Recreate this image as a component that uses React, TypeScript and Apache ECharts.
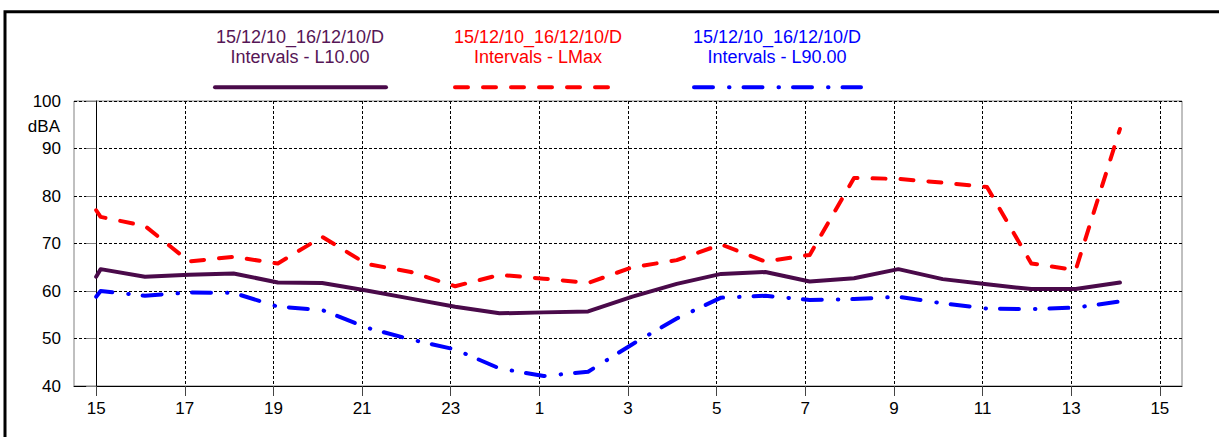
import React, { useEffect, useRef } from "react";
import * as echarts from "echarts";

// hours elapsed since 15:00 on day 1
const times = [0, 0.1, 1.1, 2.1, 3.1, 4.1, 5.1, 6.1, 7.1, 8.1, 9.1, 10.1, 11.1, 12.1, 13.1, 14.1, 15.1, 16.1, 17.1, 18.1, 19.1, 20.1, 21.1, 22.1, 23.1];
const l10 = [63.0, 64.6, 63.0, 63.4, 63.7, 61.8, 61.7, 60.1, 58.4, 56.7, 55.3, 55.5, 55.7, 58.8, 61.5, 63.6, 64.0, 62.0, 62.7, 64.6, 62.5, 61.4, 60.4, 60.4, 61.8];
const lmax = [77.0, 75.6, 73.7, 66.2, 67.2, 65.8, 71.4, 65.7, 64.0, 61.0, 63.4, 62.6, 61.7, 65.0, 66.5, 69.8, 66.2, 67.6, 83.8, 83.6, 82.8, 81.9, 65.8, 64.4, 94.1];
const l90 = [58.8, 60.0, 59.0, 59.7, 59.6, 56.7, 56.0, 52.3, 49.8, 47.7, 43.7, 42.1, 43.0, 48.8, 54.2, 58.6, 59.0, 58.1, 58.3, 58.8, 57.4, 56.3, 56.2, 56.5, 57.8];

const xTickValues = [0, 2, 4, 6, 8, 10, 12, 14, 16, 18, 20, 22, 24];
const xTickLabels = ["15", "17", "19", "21", "23", "1", "3", "5", "7", "9", "11", "13", "15"];

const seriesNames = [
  "15/12/10_16/12/10/D\nIntervals - L10.00",
  "15/12/10_16/12/10/D\nIntervals - LMax",
  "15/12/10_16/12/10/D\nIntervals - L90.00",
];

const FONT = "Arial, 'Liberation Sans', sans-serif";
const PURPLE = "#4a0a4a";
const PURPLE_TEXT = "#561656";
const RED = "#ff0000";
const BLUE = "#0000ff";
const DASH_RED = [13, 15];
const DASH_BLUE = [19, 16, 0.5, 14];

export default function App() {
  const ref = useRef<HTMLDivElement>(null);
  useEffect(() => {
    if (!ref.current) return;
    const chart = echarts.init(ref.current, null, { renderer: "svg" });
    const pairs = (ys: number[]) => times.map((t, i) => [t, ys[i]]);
    const legendItems = [
      { name: seriesNames[0], textColor: PURPLE_TEXT, color: PURPLE, dash: null as number[] | null, cx: 300, x1: 215, x2: 386 },
      { name: seriesNames[1], textColor: RED, color: RED, dash: DASH_RED, cx: 538, x1: 455, x2: 612 },
      { name: seriesNames[2], textColor: BLUE, color: BLUE, dash: DASH_BLUE, cx: 777, x1: 694, x2: 861 },
    ];
    const graphics: any[] = [
      {
        type: "rect",
        shape: { x: 5, y: 11.7, width: 1400, height: 600 },
        style: { fill: "none", stroke: "#000", lineWidth: 3 },
        silent: true,
      },
      {
        type: "text",
        x: 60,
        y: 126,
        style: { text: "dBA", fill: "#000", fontSize: 17, fontFamily: FONT, align: "right", verticalAlign: "middle" },
      },
    ];
    legendItems.forEach((it) => {
      graphics.push({
        type: "text",
        x: it.cx,
        y: 47,
        style: {
          text: it.name,
          fill: it.textColor,
          fontSize: 18,
          fontFamily: FONT,
          align: "center",
          verticalAlign: "middle",
          lineHeight: 20,
        },
      });
      graphics.push({
        type: "line",
        shape: { x1: it.x1, y1: 87.3, x2: it.x2, y2: 87.3 },
        style: {
          stroke: it.color,
          lineWidth: 4,
          lineCap: "round",
          lineDash: it.dash || undefined,
        },
      });
    });

    chart.setOption({
      animation: false,
      backgroundColor: "#fff",
      grid: {
        left: 74,
        right: 37,
        top: 101,
        bottom: 51,
        show: true,
        borderColor: "#808080",
        borderWidth: 1,
        backgroundColor: "transparent",
      },
      xAxis: {
        type: "value",
        min: -0.5,
        max: 24.5,
        axisLine: { show: true, lineStyle: { color: "#000", width: 1 } },
        axisTick: {
          show: true,
          customValues: xTickValues,
          length: 10,
          lineStyle: { color: "#444" },
        },
        axisLabel: {
          customValues: xTickValues,
          formatter: (v: number) => {
            const i = xTickValues.indexOf(Math.round(v));
            return i >= 0 ? xTickLabels[i] : "";
          },
          fontSize: 17,
          fontFamily: FONT,
          color: "#000",
          margin: 14,
        },
        splitLine: { show: true, lineStyle: { color: "#000", type: [3, 2], width: 1 } },
      },
      yAxis: {
        type: "value",
        min: 40,
        max: 100,
        interval: 10,
        axisLine: { show: true, lineStyle: { color: "#000", width: 1 } },
        axisTick: { show: true, length: 10, lineStyle: { color: "#808080" } },
        axisLabel: { fontSize: 17, fontFamily: FONT, color: "#000", margin: 13 },
        splitLine: { show: true, lineStyle: { color: "#000", type: [3, 2], width: 1 } },
      },
      series: [
        {
          name: seriesNames[0],
          type: "line",
          data: pairs(l10),
          showSymbol: false,
          symbol: "none",
          lineStyle: { color: PURPLE, width: 4, cap: "round", join: "round" },
          z: 4,
        },
        {
          name: seriesNames[1],
          type: "line",
          data: pairs(lmax),
          showSymbol: false,
          symbol: "none",
          lineStyle: { color: RED, width: 4, type: DASH_RED, cap: "round", join: "round" },
          z: 3,
        },
        {
          name: seriesNames[2],
          type: "line",
          data: pairs(l90),
          showSymbol: false,
          symbol: "none",
          lineStyle: { color: BLUE, width: 4, type: DASH_BLUE, cap: "round", join: "round" },
          z: 3,
        },
      ],
      graphic: graphics,
    });
    return () => chart.dispose();
  }, []);
  return (
    <div
      ref={ref}
      style={{ position: "fixed", left: 0, top: 0, width: 1219, height: 437, background: "#fff" }}
    />
  );
}
